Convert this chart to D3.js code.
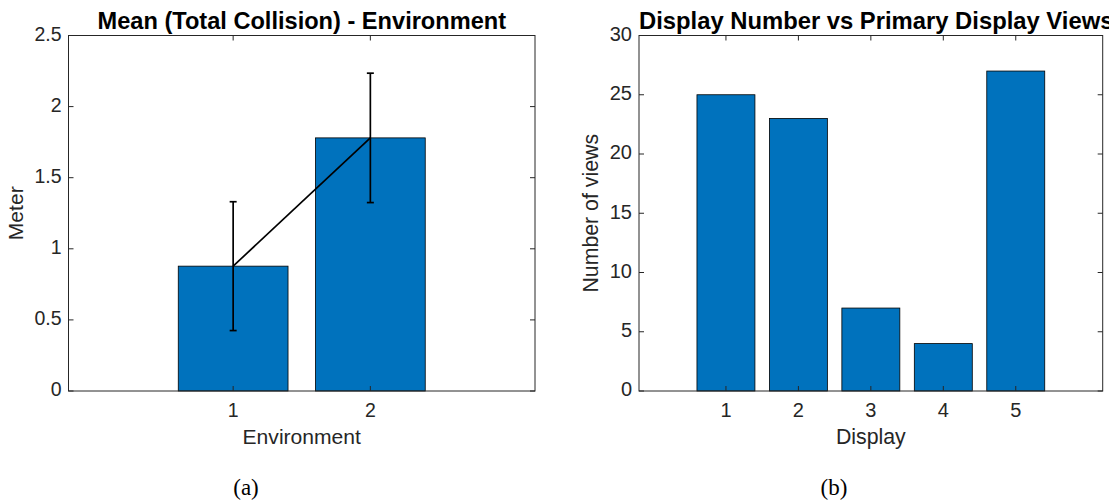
<!DOCTYPE html>
<html lang="en">
<head>
<meta charset="UTF-8">
<script src="https://d3js.org/d3.v7.min.js"></script>
<title>Bar charts</title>
<style>
  body { margin: 0; background: #fff; }
  svg { display: block; font-family: "Liberation Sans", Arial, sans-serif; }
</style>
</head>
<body>
<div id="container"></div>
<script>
// chart (a) data
var envCategories = [1, 2];
var envMeans = [0.878, 1.780];
var envErrors = [0.453, 0.455];
var envYTicks = [0, 0.5, 1, 1.5, 2, 2.5];

// chart (b) data
var displayCategories = [1, 2, 3, 4, 5];
var displayViews = [25, 23, 7, 4, 27];
var displayYTicks = [0, 5, 10, 15, 20, 25, 30];

var W = 1109, H = 504;
var barColor = "#0072BD", axisColor = "#262626";

var svg = d3.select("#container").append("svg").attr("width", W).attr("height", H);

// draws one MATLAB-like bar axes
function drawPanel(opt) {
  var x = d3.scaleLinear().domain(opt.xDomain).range([opt.left, opt.right]);
  var y = d3.scaleLinear().domain(opt.yDomain).range([opt.bottom, opt.top]);
  var g = svg.append("g");

  // bars
  g.selectAll("rect.bar").data(opt.cats).enter().append("rect")
    .attr("class", "bar")
    .attr("x", function(d) { return x(d - 0.4); })
    .attr("width", function(d) { return x(d + 0.4) - x(d - 0.4); })
    .attr("y", function(d, i) { return y(opt.values[i]); })
    .attr("height", function(d, i) { return y(0) - y(opt.values[i]); })
    .attr("fill", barColor).attr("stroke", "#000").attr("stroke-width", 0.8);

  // box
  g.append("rect")
    .attr("x", opt.left).attr("y", opt.top)
    .attr("width", opt.right - opt.left).attr("height", opt.bottom - opt.top)
    .attr("fill", "none").attr("stroke", axisColor).attr("stroke-width", 1);

  // ticks (inward, mirrored)
  var tl = 5;
  opt.cats.forEach(function(c) {
    g.append("line").attr("x1", x(c)).attr("x2", x(c)).attr("y1", opt.bottom).attr("y2", opt.bottom - tl).attr("stroke", axisColor);
    g.append("line").attr("x1", x(c)).attr("x2", x(c)).attr("y1", opt.top).attr("y2", opt.top + tl).attr("stroke", axisColor);
    g.append("text").attr("x", x(c)).attr("y", opt.bottom + 21).attr("text-anchor", "middle")
      .attr("dominant-baseline", "middle").attr("font-size", opt.tickSize).attr("fill", axisColor).text(c);
  });
  opt.yTicks.forEach(function(t) {
    g.append("line").attr("x1", opt.left).attr("x2", opt.left + tl).attr("y1", y(t)).attr("y2", y(t)).attr("stroke", axisColor);
    g.append("line").attr("x1", opt.right).attr("x2", opt.right - tl).attr("y1", y(t)).attr("y2", y(t)).attr("stroke", axisColor);
    g.append("text").attr("x", opt.left - 7).attr("y", y(t)).attr("text-anchor", "end")
      .attr("dominant-baseline", "middle").attr("font-size", opt.tickSize).attr("fill", axisColor).text(t);
  });

  // labels
  g.append("text").attr("x", (opt.left + opt.right) / 2).attr("y", opt.bottom + 47)
    .attr("text-anchor", "middle").attr("dominant-baseline", "middle")
    .attr("font-size", opt.labelSize).attr("fill", axisColor).text(opt.xLabel);
  g.append("text").attr("transform", "translate(" + opt.yLabelX + "," + ((opt.top + opt.bottom) / 2) + ") rotate(-90)")
    .attr("text-anchor", "middle").attr("dominant-baseline", "middle")
    .attr("font-size", opt.labelSize).attr("fill", axisColor).text(opt.yLabel);
  g.append("text").attr("x", opt.titleX).attr("y", opt.top - 7)
    .attr("text-anchor", opt.titleAnchor).attr("font-weight", "bold")
    .attr("font-size", opt.titleSize).attr("fill", "#000").text(opt.title);

  // caption
  g.append("text").attr("x", opt.capX).attr("y", 490)
    .attr("text-anchor", "middle").attr("dominant-baseline", "middle")
    .attr("font-family", "'Liberation Serif', 'DejaVu Serif', serif")
    .attr("font-size", 23).attr("fill", "#000").text(opt.caption);

  return { x: x, y: y, g: g };
}

var a = drawPanel({
  left: 68.5, right: 535, top: 35.5, bottom: 391,
  xDomain: [-0.2, 3.2], yDomain: [0, 2.5],
  cats: envCategories, values: envMeans, yTicks: envYTicks,
  tickSize: 19.5, labelSize: 21.1, titleSize: 23.6,
  xLabel: "Environment", yLabel: "Meter", yLabelX: 17.5,
  title: "Mean (Total Collision) - Environment", titleX: 301.8, titleAnchor: "middle",
  caption: "(a)", capX: 246
});

// error bars with connecting line
var lineGen = d3.line()
  .x(function(d, i) { return a.x(envCategories[i]); })
  .y(function(d) { return a.y(d); });
a.g.append("path").datum(envMeans)
  .attr("d", lineGen).attr("fill", "none").attr("stroke", "#000").attr("stroke-width", 1.7);
envCategories.forEach(function(c, i) {
  var cx = a.x(c), lo = a.y(envMeans[i] - envErrors[i]), hi = a.y(envMeans[i] + envErrors[i]);
  a.g.append("line").attr("x1", cx).attr("x2", cx).attr("y1", lo).attr("y2", hi).attr("stroke", "#000").attr("stroke-width", 1.7);
  [lo, hi].forEach(function(yy) {
    a.g.append("line").attr("x1", cx - 3.5).attr("x2", cx + 3.5).attr("y1", yy).attr("y2", yy).attr("stroke", "#000").attr("stroke-width", 1.7);
  });
});

drawPanel({
  left: 639, right: 1102.7, top: 35.5, bottom: 391,
  xDomain: [-0.2, 6.2], yDomain: [0, 30],
  cats: displayCategories, values: displayViews, yTicks: displayYTicks,
  tickSize: 20, labelSize: 21.3, titleSize: 23.8,
  xLabel: "Display", yLabel: "Number of views", yLabelX: 592.5,
  title: "Display Number vs Primary Display Views", titleX: 639, titleAnchor: "start",
  caption: "(b)", capX: 834
});
</script>
</body>
</html>
